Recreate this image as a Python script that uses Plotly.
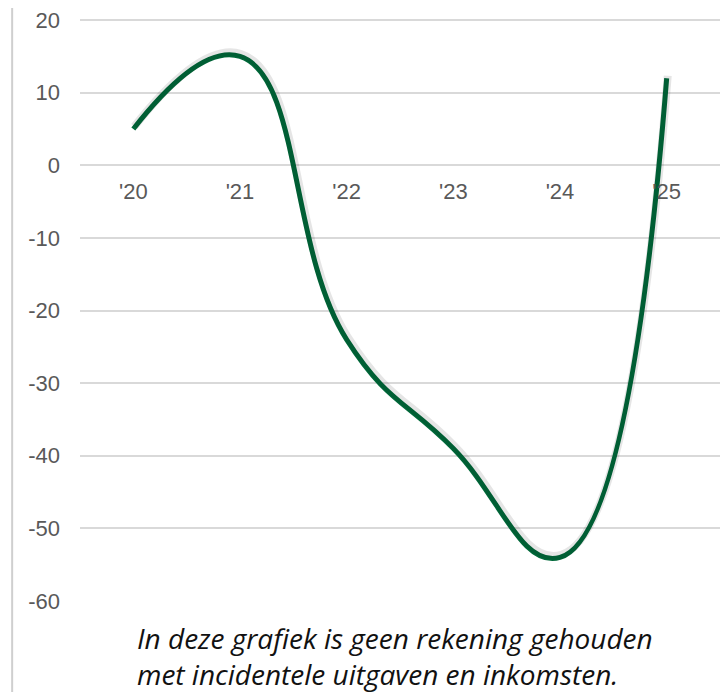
import plotly.graph_objects as go

# jaarlabels en saldo per jaar
YEARS = ["'20", "'21", "'22", "'23", "'24", "'25"]
SALDO = [5, 15, -24, -39, -54, 12]

Y_TICKS = [-60, -50, -40, -30, -20, -10, 0, 10, 20]
Y_TICK_TEXT = ["-60", "-50", "-40", "-30", "-20", "-10", "0", "10", "20"]

CAPTION = "In deze grafiek is geen rekening gehouden<br>met incidentele uitgaven en inkomsten."

GREEN = "#00693a"
GRID = "#d9d9d9"
TICK_COLOR = "#595959"

fig = go.Figure()

# zachte schaduw onder de lijn (via een licht verschoven tweede as)
fig.add_trace(
    go.Scatter(
        x=YEARS,
        y=SALDO,
        mode="lines",
        line=dict(color="rgba(0,0,0,0.10)", width=8, shape="spline", smoothing=1.3),
        xaxis="x2",
        yaxis="y2",
        hoverinfo="skip",
        showlegend=False,
    )
)
fig.add_trace(
    go.Scatter(
        x=YEARS,
        y=SALDO,
        mode="lines",
        line=dict(color=GREEN, width=5, shape="spline", smoothing=1.3),
        showlegend=False,
    )
)

# de pagina heeft 8px body-marge, dus de figuur is 8px kleiner en schuift mee
fig.update_layout(
    width=720,
    height=684,
    margin=dict(l=72, r=8, t=10, b=91),
    paper_bgcolor="white",
    plot_bgcolor="white",
    font=dict(family="Liberation Sans, Arial, sans-serif", color=TICK_COLOR),
    xaxis=dict(
        type="category",
        range=[-0.5, 5.5],
        anchor="free",
        position=60 / 80.3,
        showgrid=False,
        showline=False,
        zeroline=False,
        ticks="",
        automargin=False,
        tickfont=dict(size=22, color=TICK_COLOR),
        ticklabelstandoff=11,
    ),
    yaxis=dict(
        range=[-60, 20.3],
        tickvals=Y_TICKS,
        ticktext=Y_TICK_TEXT,
        showgrid=True,
        gridcolor=GRID,
        gridwidth=1.5,
        zeroline=True,
        zerolinecolor=GRID,
        zerolinewidth=1.5,
        showline=False,
        ticks="",
        automargin=False,
        tickfont=dict(size=22, color=TICK_COLOR),
        ticklabelstandoff=19,
        ticklabeloverflow="allow",
    ),
    xaxis2=dict(
        type="category",
        range=[-0.51, 5.49],
        overlaying="x",
        visible=False,
    ),
    yaxis2=dict(
        range=[-60.35, 19.95],
        overlaying="y",
        visible=False,
    ),
)

# grijze verticale lijn links langs de hele afbeelding
fig.add_shape(
    type="line",
    xref="paper",
    yref="paper",
    x0=-0.106,
    x1=-0.106,
    y0=-0.17,
    y1=1.03,
    line=dict(color="#cfcfcf", width=2),
)

fig.add_annotation(
    text=f"<i>{CAPTION}</i>",
    xref="paper",
    yref="paper",
    x=0.086,
    y=-0.0943,
    xanchor="left",
    yanchor="middle",
    showarrow=False,
    align="left",
    font=dict(family="Open Sans, sans-serif", size=28, color="#111111"),
)

fig.write_html("out.html")
